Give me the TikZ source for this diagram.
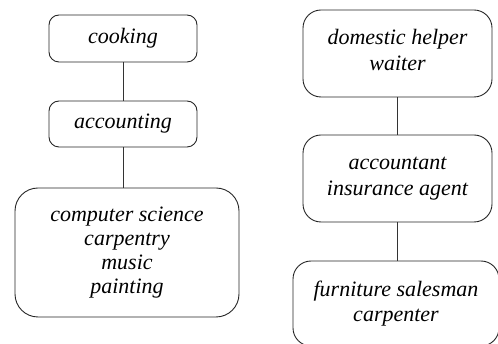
\documentclass[tikz,border=0pt]{standalone}
\usepackage{fontspec}
\setmainfont{Liberation Serif}
\begin{document}
\begin{tikzpicture}[x=1pt,y=-1pt,
  box/.style={draw=black!85, line width=0.9pt, align=center, inner sep=0pt,
    font=\fontsize{22}{24}\selectfont\itshape},
  boxr/.style={box, font=\fontsize{22}{25.5}\selectfont\itshape},
  conn/.style={draw=black!80, line width=0.9pt}]
\useasboundingbox (0,0) rectangle (498,344);
\clip (0,0) rectangle (498,344);
% left column
\node[box, rounded corners=10pt, minimum width=148pt, minimum height=47pt] (cook) at (123,38.5) {cooking};
\node[box, rounded corners=10pt, minimum width=148pt, minimum height=46pt] (acc) at (123,124) {accounting};
\node[box, rounded corners=23pt, minimum width=224pt, minimum height=129pt] (big) at (127,252.5)
  {computer science\\carpentry\\music\\painting};
\draw[conn] (cook) -- (acc);
\draw[conn] (acc.south) -- (acc.south |- big.north);
% right column
\node[boxr, rounded corners=18pt, minimum width=189pt, minimum height=87pt] (dom) at (397.5,53.5)
  {domestic helper\\waiter\rule[-7pt]{0pt}{7pt}};
\node[boxr, rounded corners=18pt, minimum width=189pt, minimum height=87pt] (accag) at (397.5,178.5)
  {accountant\\insurance agent};
\node[boxr, rounded corners=18pt, minimum width=206pt, minimum height=85pt] (furn) at (396,303.5)
  {furniture salesman\\carpenter};
\draw[conn] (dom) -- (accag);
\draw[conn] (accag.south) -- (accag.south |- furn.north);
\end{tikzpicture}
\end{document}
